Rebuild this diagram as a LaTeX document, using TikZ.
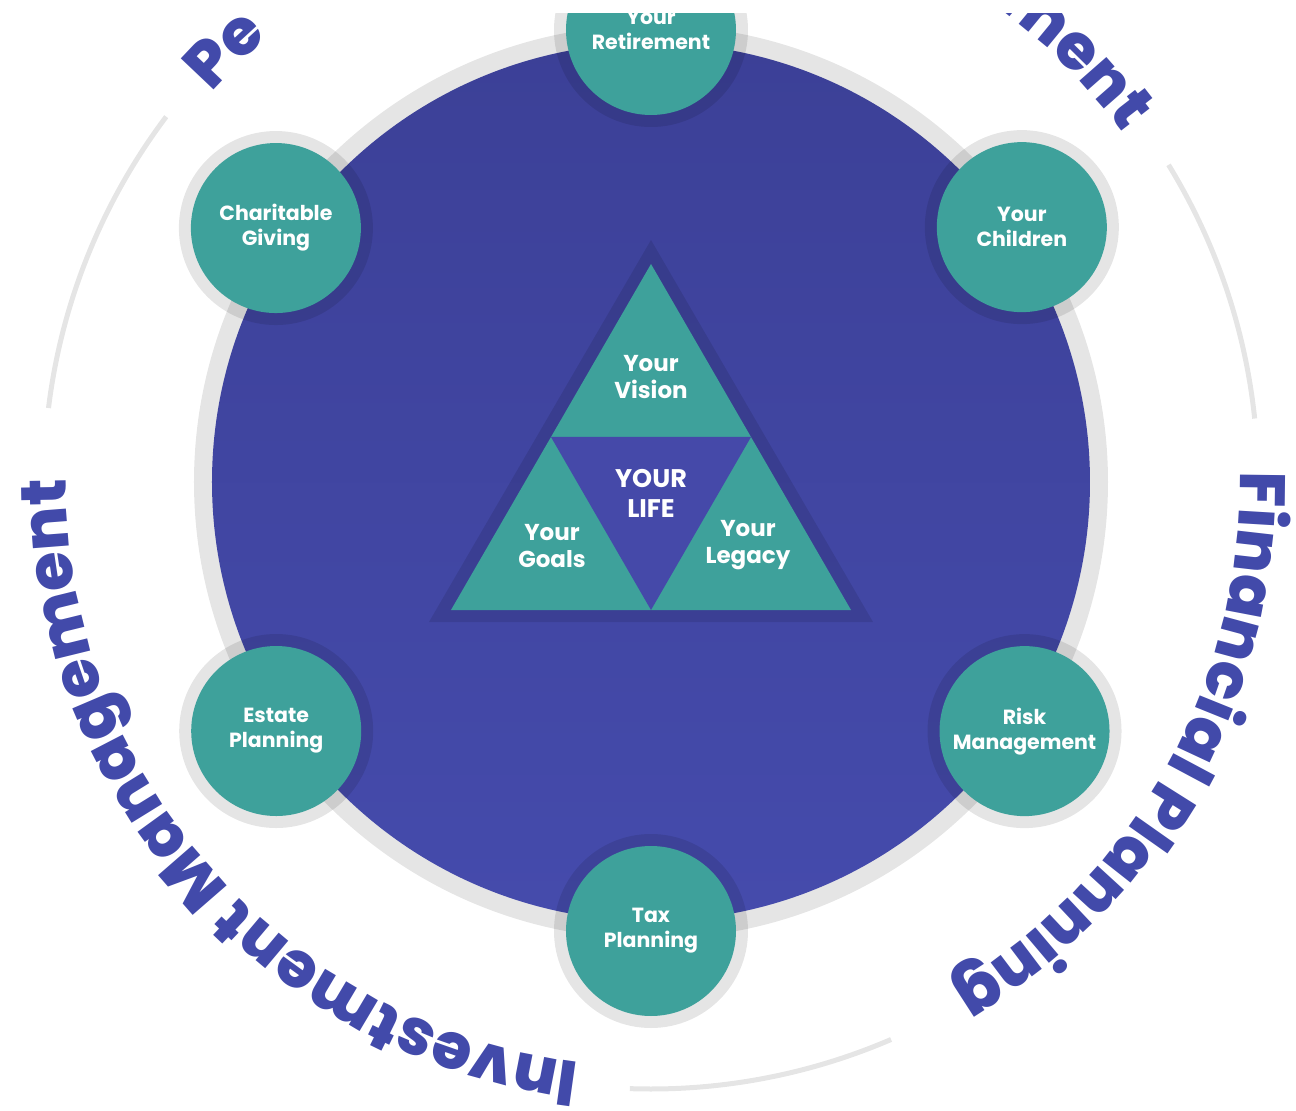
\documentclass[tikz,border=0pt]{standalone}
\usepackage{fontspec}
\setmainfont{Poppins}
\newfontfamily\heavyfont{Poppins}[UprightFont=* ExtraBold]
\usetikzlibrary{decorations.text}

\definecolor{wheel}{HTML}{4046A3}
\definecolor{wheeltop}{HTML}{3C4097}
\definecolor{wheelbot}{HTML}{454BAC}
\definecolor{teal}{HTML}{3EA19B}
\definecolor{ringgray}{HTML}{E5E5E5}
\definecolor{lifeblue}{HTML}{4549A9}
\definecolor{wordblue}{HTML}{424AAA}

\tikzset{
	topic/.style={circle, fill=teal, minimum size=170pt, inner sep=0pt, align=center, text=white,
		font=\bfseries\fontsize{20.5}{25}\selectfont,
		preaction={draw=black, draw opacity=0.1, line width=24pt}},
	piece/.style={align=center, text=white, inner sep=0pt, font=\bfseries\fontsize{23}{27}\selectfont},
	rim/.style={draw=ringgray, line width=5pt},
	arcword/.style 2 args={decorate, decoration={text along path, text align=#1, text color=wordblue,
		text={|\heavyfont\fontsize{64}{64}\selectfont|#2}}}
}

\begin{document}
\begin{tikzpicture}[x=1pt, y=1pt]
	\useasboundingbox (-651,-629) rectangle (645,482);
	\clip (-651,-629) rectangle (645,482);

	% thin outer arcs
	\draw[rim] (143:607) arc[start angle=143, end angle=173, radius=607];
	\draw[rim] (31.5:607) arc[start angle=31.5, end angle=6, radius=607];
	\draw[rim] (-66.7:607) arc[start angle=-66.7, end angle=-92, radius=607];

	% words round the wheel
	\path[arcword={left}{Pe}] (138.5:587) arc[start angle=138.5, end angle=105, radius=587];
	\path[arcword={right}{ment}] (80:587) arc[start angle=80, end angle=36.5, radius=587];
	\path[arcword={left}{Financial Planning}] (1:589) arc[start angle=1, end angle=-80, radius=589];
	\path[arcword={left}{Investment Management}] (-97:585) arc[start angle=-97, end angle=-200, radius=585];

	% wheel
	\fill[ringgray] (0,0) circle (457);
	\shade[top color=wheeltop, bottom color=wheelbot] (0,0) circle (439);

	% triangle
	\fill[black, opacity=0.1] (0,242) -- (222,-140) -- (-222,-140) -- cycle;
	\fill[teal] (0,218) -- (200,-128) -- (-200,-128) -- cycle;
	\fill[lifeblue] (-100,45) -- (100,45) -- (0,-128) -- cycle;
	\node[piece] (vision) at (0,105) {Your\\Vision};
	\node[piece, font=\bfseries\fontsize{25.5}{30}\selectfont] (life) at (0,-11) {YOUR\\LIFE};
	\node[piece] (goals) at (-99,-64) {Your\\Goals};
	\node[piece] (legacy) at (97,-63) {Your\\Legacy};

	% topics
	\node[topic] (retire) at (90:452) {Your\\Retirement};
	\node[topic] (children) at (34.5:450) {Your\\Children};
	\node[topic] (risk) at (-33.7:449) {Risk\\Management};
	\node[topic] (tax) at (-90:449) {Tax\\Planning};
	\node[topic] (estate) at (213.6:450) {Estate\\Planning};
	\node[topic] (charity) at (145.9:453) {Charitable\\Giving};

	% blank strip along the top edge
	\fill[white] (-651,469) rectangle (645,482);
\end{tikzpicture}
\end{document}
